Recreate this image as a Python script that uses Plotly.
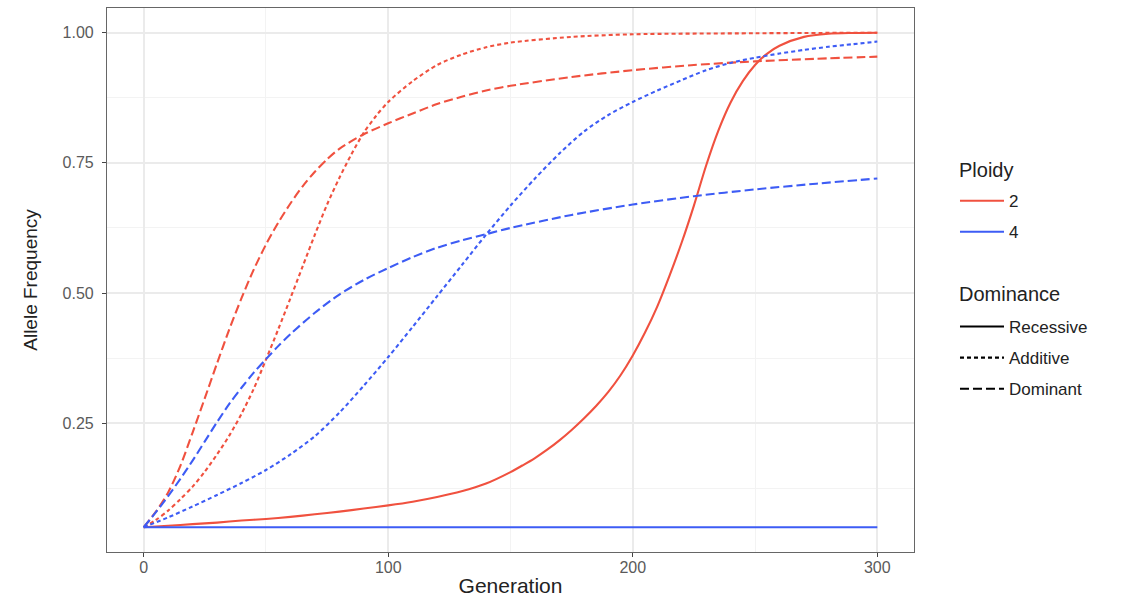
import plotly.graph_objects as go

# ---- data ----
gen_rec_2 = [0, 10, 20, 30, 40, 50, 60, 70, 80, 90, 100, 110, 120, 130, 140, 150, 155, 160, 165, 170, 175, 180, 185, 190, 195, 200, 205, 210, 215, 220, 225, 230, 235, 240, 245, 250, 255, 260, 270, 280, 290, 300]
freq_rec_2 = [0.050, 0.053, 0.056, 0.059, 0.063, 0.066, 0.070, 0.075, 0.080, 0.086, 0.092, 0.099, 0.108, 0.119, 0.134, 0.156, 0.169, 0.183, 0.199, 0.217, 0.237, 0.259, 0.283, 0.310, 0.342, 0.380, 0.424, 0.474, 0.533, 0.597, 0.668, 0.745, 0.812, 0.866, 0.907, 0.938, 0.960, 0.975, 0.992, 0.998, 0.9995, 1.000]

gen_rec_4 = [0, 50, 100, 150, 200, 250, 300]
freq_rec_4 = [0.050, 0.050, 0.050, 0.050, 0.050, 0.050, 0.050]

gen_add_2 = [0, 5, 10, 15, 20, 25, 30, 35, 40, 45, 50, 55, 60, 65, 70, 75, 80, 85, 90, 95, 100, 110, 120, 130, 140, 150, 175, 200, 250, 300]
freq_add_2 = [0.050, 0.064, 0.082, 0.104, 0.128, 0.157, 0.190, 0.226, 0.268, 0.316, 0.372, 0.430, 0.490, 0.551, 0.612, 0.670, 0.721, 0.767, 0.808, 0.840, 0.867, 0.907, 0.938, 0.958, 0.972, 0.981, 0.992, 0.997, 0.999, 1.000]

gen_add_4 = [0, 10, 20, 30, 40, 50, 60, 70, 80, 90, 100, 110, 120, 130, 140, 150, 160, 170, 180, 190, 200, 210, 220, 230, 240, 250, 260, 270, 280, 290, 300]
freq_add_4 = [0.050, 0.069, 0.090, 0.112, 0.135, 0.160, 0.190, 0.225, 0.270, 0.322, 0.377, 0.435, 0.494, 0.553, 0.612, 0.668, 0.720, 0.768, 0.810, 0.842, 0.867, 0.889, 0.909, 0.928, 0.942, 0.952, 0.960, 0.967, 0.973, 0.978, 0.983]

gen_dom_2 = [0, 5, 10, 15, 20, 25, 30, 35, 40, 45, 50, 55, 60, 65, 70, 75, 80, 90, 100, 110, 120, 130, 140, 150, 175, 200, 225, 250, 275, 300]
freq_dom_2 = [0.050, 0.080, 0.117, 0.168, 0.232, 0.298, 0.365, 0.430, 0.490, 0.545, 0.593, 0.635, 0.672, 0.705, 0.733, 0.757, 0.777, 0.805, 0.826, 0.845, 0.863, 0.877, 0.889, 0.898, 0.915, 0.928, 0.938, 0.945, 0.950, 0.954]

gen_dom_4 = [0, 5, 10, 15, 20, 25, 30, 35, 40, 45, 50, 55, 60, 70, 80, 90, 100, 110, 120, 130, 140, 150, 175, 200, 225, 250, 275, 300]
freq_dom_4 = [0.050, 0.079, 0.110, 0.143, 0.178, 0.215, 0.252, 0.287, 0.318, 0.347, 0.373, 0.398, 0.421, 0.462, 0.497, 0.525, 0.548, 0.569, 0.587, 0.601, 0.613, 0.625, 0.650, 0.670, 0.686, 0.699, 0.710, 0.720]

ploidy_levels = ["2", "4"]
dominance_levels = ["Recessive", "Additive", "Dominant"]
x_ticks = [0, 100, 200, 300]
y_ticks = [0.25, 0.50, 0.75, 1.00]
y_ticklabels = ["0.25", "0.50", "0.75", "1.00"]

# ---- styling ----
COLORS = {"2": "#F0513F", "4": "#3D5CF5"}
DASHES = {"Recessive": "solid", "Additive": "4px,3px", "Dominant": "9px,4px"}
LW = 2.1
FONT = "Liberation Sans, Arial, Helvetica, sans-serif"

series = [
    ("2", "Recessive", gen_rec_2, freq_rec_2),
    ("2", "Additive", gen_add_2, freq_add_2),
    ("2", "Dominant", gen_dom_2, freq_dom_2),
    ("4", "Recessive", gen_rec_4, freq_rec_4),
    ("4", "Additive", gen_add_4, freq_add_4),
    ("4", "Dominant", gen_dom_4, freq_dom_4),
]

fig = go.Figure()
for ploidy, dom, gx, fy in series:
    fig.add_trace(go.Scatter(
        x=gx, y=fy, mode="lines",
        line=dict(color=COLORS[ploidy], dash=DASHES[dom], width=LW, shape="spline", smoothing=0.8),
        showlegend=False, hoverinfo="skip",
    ))

# legend entries (one group each, so the group gap spaces them)
for p in ploidy_levels:
    fig.add_trace(go.Scatter(x=[None], y=[None], mode="lines", name=p, legendgroup="p" + p,
                             line=dict(color=COLORS[p], width=LW), legend="legend"))
for d in dominance_levels:
    fig.add_trace(go.Scatter(x=[None], y=[None], mode="lines", name=d, legendgroup="d" + d,
                             line=dict(color="black", width=LW, dash=DASHES[d]), legend="legend2"))

grid_major = "#EBEBEB"
grid_minor = "#F3F3F3"
axis_common = dict(
    showgrid=True, gridcolor=grid_major, gridwidth=2,
    showline=True, linecolor="#666666", linewidth=1.2, mirror=True,
    ticks="outside", ticklen=4, tickcolor="#444444", tickwidth=1.2,
    tickfont=dict(size=16, color="#5A5A5A"), zeroline=False, automargin=False,
)
legend_common = dict(
    xanchor="left", yanchor="top", x=1.0508,
    font=dict(size=17, color="#222222"), bgcolor="rgba(0,0,0,0)",
    itemwidth=44, tracegroupgap=6,
)

fig.update_layout(
    width=1121, height=597,
    margin=dict(l=107, r=207, t=8, b=45),
    paper_bgcolor="white", plot_bgcolor="white",
    font=dict(family=FONT, color="#444444"),
    xaxis=dict(
        range=[-15, 315], tickvals=x_ticks, ticktext=[str(v) for v in x_ticks],
        minor=dict(dtick=50, tick0=0, showgrid=True, gridcolor=grid_minor, gridwidth=1.2, ticks=""),
        ticklabelstandoff=-3,
        title=dict(text="Generation", font=dict(size=21, color="#222222"), standoff=6),
        **axis_common,
    ),
    yaxis=dict(
        range=[0.0025, 1.0475], tickvals=y_ticks, ticktext=y_ticklabels,
        minor=dict(dtick=0.125, tick0=0, showgrid=True, gridcolor=grid_minor, gridwidth=1.2, ticks=""),
        ticklabelstandoff=5,
        title=dict(text="Allele Frequency", font=dict(size=19, color="#222222"), standoff=19),
        **axis_common,
    ),
    legend=dict(y=0.678, **legend_common),
    legend2=dict(y=0.4467, **legend_common),
    annotations=[
        dict(text="Ploidy", xref="paper", yref="paper", x=1.0533, y=0.7022,
             xanchor="left", yanchor="middle", showarrow=False,
             font=dict(size=20, color="#222222")),
        dict(text="Dominance", xref="paper", yref="paper", x=1.0533, y=0.4743,
             xanchor="left", yanchor="middle", showarrow=False,
             font=dict(size=20, color="#222222")),
    ],
)

fig.write_html("out.html", config={"displayModeBar": False},
               post_script="document.body.style.margin='0px';")
